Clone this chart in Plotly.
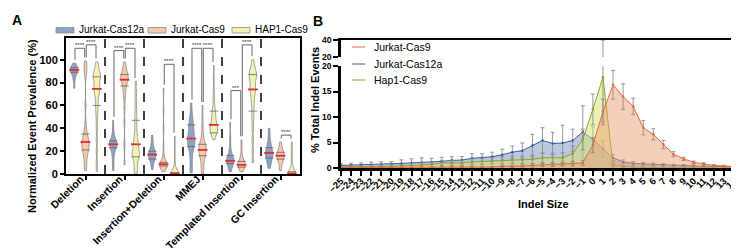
import plotly.graph_objects as go
import numpy as np

# ---------------- Panel A data ----------------
categories = ["Deletion", "Insertion", "Insertion+Deletion", "MMEJ",
              "Templated Insertion", "GC Insertion"]
group_names = ["Jurkat-Cas12a", "Jurkat-Cas9", "HAP1-Cas9"]

# estimated per-sample values (normalized event prevalence, %)
jurkat_cas12a_values = [
    [75, 80, 84, 86, 88, 89, 90, 90, 91, 91, 91, 92, 92, 93, 94, 95, 97],
    [3, 8, 13, 17, 20, 22, 23, 24, 25, 26, 26, 27, 28, 29, 30, 32, 35, 40, 47],
    [4, 8, 11, 13, 14, 15, 16, 17, 17, 18, 19, 20, 22, 25, 29, 34],
    [1, 5, 10, 15, 19, 22, 24, 25, 27, 28, 30, 31, 32, 34, 36, 38, 40, 42, 44, 47, 50, 55, 62],
    [2, 4, 6, 8, 9, 10, 11, 11, 12, 12, 13, 14, 15, 16, 18, 21, 26, 33, 45],
    [5, 8, 10, 12, 14, 15, 16, 17, 18, 19, 20, 21, 23, 25, 27, 30, 35, 40],
]
jurkat_cas9_values = [
    [3, 6, 10, 13, 16, 18, 20, 21, 22, 24, 25, 26, 27, 28, 29, 30, 32, 34, 36, 39, 45, 60, 86, 90, 93, 96, 99],
    [8, 25, 45, 58, 66, 71, 74, 77, 79, 81, 82, 83, 84, 85, 86, 87, 88, 90, 92, 95, 98],
    [2, 4, 5, 6, 7, 7, 8, 8, 8, 9, 9, 10, 11, 13, 17, 25, 40, 55, 75],
    [0, 3, 6, 9, 12, 14, 15, 17, 18, 19, 20, 21, 22, 23, 24, 25, 26, 27, 29, 32, 36, 42, 50, 60],
    [2, 4, 5, 6, 7, 7, 8, 8, 8, 9, 9, 10, 11, 12, 14, 18, 24, 30],
    [3, 6, 9, 11, 13, 14, 15, 16, 16, 17, 18, 19, 20, 22, 25, 28],
]
hap1_cas9_values = [
    [2, 10, 20, 30, 40, 48, 54, 58, 62, 66, 69, 71, 73, 74, 75, 77, 79, 81, 83, 84, 85, 86, 87, 88, 90, 92, 95, 98],
    [0, 3, 6, 9, 12, 14, 16, 17, 18, 19, 20, 22, 24, 26, 28, 30, 33, 37, 42, 47, 52, 58, 65, 72, 81],
    [0, 0, 0, 0, 0, 0, 0.5, 1, 1, 2, 5, 12, 22, 33],
    [30, 33, 35, 36, 37, 38, 39, 40, 41, 42, 43, 44, 46, 48, 50, 52, 54, 56, 60, 66, 74, 84, 95],
    [10, 20, 30, 40, 48, 54, 60, 64, 68, 71, 73, 75, 77, 80, 82, 84, 86, 87, 88, 90, 92, 95, 100],
    [0, 0, 0, 0, 0, 0, 0.5, 1, 2, 4, 8, 15, 22, 28],
]

jurkat_cas12a_median = [91, 26, 17, 31, 11.5, 18.5]
jurkat_cas9_median = [28, 82.5, 8.5, 21, 8, 16]
hap1_cas9_median = [74.5, 26, 0.5, 43, 74, 0.5]

jurkat_cas12a_q1 = [89, 23, 13, 24, 9, 14]
jurkat_cas12a_q3 = [93, 29, 20, 43, 16, 23]
jurkat_cas9_q1 = [21, 77, 7, 16, 6, 13]
jurkat_cas9_q3 = [35, 87, 10, 26, 11, 19]
hap1_cas9_q1 = [60, 15, 0, 36, 55, 0]
hap1_cas9_q3 = [85, 47, 1, 55, 87, 2]

# significance brackets
sig_category = [0, 0, 1, 1, 2, 3, 3, 4, 4, 5]
sig_left = [0, 1, 0, 1, 1, 0, 1, 0, 1, 1]
sig_right = [1, 2, 1, 2, 2, 1, 2, 1, 2, 2]
sig_height = [110, 113, 108, 110, 96, 110, 110, 73, 113, 34]
sig_label = ["****", "****", "****", "****", "****", "****", "****", "***", "****", "****"]

# ---------------- Panel B data ----------------
indel_size = list(range(-25, 16))
jurkat_cas9_pct = [0.1, 0.1, 0.1, 0.1, 0.1, 0.1, 0.1, 0.1, 0.1, 0.1,
                   0.15, 0.15, 0.15, 0.2, 0.2, 0.2, 0.3, 0.3, 0.4, 0.5,
                   0.6, 0.6, 0.7, 0.8, 1.0, 4.5, 11.0, 16.3, 14.0, 12.1,
                   7.9, 6.6, 4.6, 2.7, 1.8, 1.1, 0.8, 0.5, 0.4, 0.25, 0.15]
jurkat_cas9_err = [0.1, 0.1, 0.1, 0.1, 0.1, 0.1, 0.1, 0.1, 0.1, 0.1,
                   0.1, 0.1, 0.1, 0.1, 0.1, 0.1, 0.2, 0.2, 0.2, 0.3,
                   0.3, 0.3, 0.3, 0.4, 0.5, 1.5, 2.5, 2.8, 2.5, 1.6,
                   1.4, 1.1, 0.8, 0.5, 0.3, 0.25, 0.2, 0.15, 0.1, 0.1, 0.1]
jurkat_cas12a_pct = [0.5, 0.55, 0.6, 0.65, 0.7, 0.75, 0.9, 1.0, 1.1, 1.1,
                     1.3, 1.5, 1.55, 1.9, 2.0, 2.2, 2.6, 3.1, 3.4, 4.4,
                     5.4, 4.8, 4.9, 5.4, 7.1, 5.6, 3.8, 2.0, 1.2, 0.9,
                     0.8, 0.7, 0.6, 0.5, 0.45, 0.4, 0.35, 0.3, 0.25, 0.2, 0.2]
jurkat_cas12a_err = [0.3, 0.4, 0.4, 0.5, 0.5, 0.5, 0.7, 0.8, 0.9, 0.8,
                     0.8, 0.7, 0.7, 0.9, 0.8, 0.9, 1.1, 1.2, 1.5, 2.2,
                     2.5, 2.2, 3.5, 2.2, 5.1, 2.5, 1.6, 0.7, 0.4, 0.35,
                     0.3, 0.3, 0.25, 0.2, 0.2, 0.2, 0.15, 0.15, 0.1, 0.1, 0.1]
hap1_cas9_pct = [0.2, 0.2, 0.25, 0.3, 0.3, 0.35, 0.4, 0.5, 0.6, 0.7,
                 1.0, 1.0, 1.0, 1.2, 1.3, 1.4, 1.5, 1.6, 1.6, 1.7,
                 2.0, 2.0, 2.0, 2.8, 5.6, 11.5, 17.8, 0.5, 0.3, 0.2,
                 0.15, 0.1, 0.1, 0.1, 0.1, 0.05, 0.05, 0.05, 0.05, 0.05, 0.05]
hap1_cas9_err_up = [0.2, 0.2, 0.2, 0.3, 0.3, 0.3, 0.3, 0.4, 0.4, 0.5,
                    0.5, 0.5, 0.5, 0.6, 0.6, 0.6, 0.7, 0.7, 0.7, 0.8,
                    0.9, 0.9, 1.0, 1.5, 2.0, 3.0, 22.0, 0.3, 0.2, 0.1,
                    0.1, 0.1, 0.1, 0.1, 0.1, 0.05, 0.05, 0.05, 0.05, 0.05, 0.05]
hap1_cas9_err_down = [0.2, 0.2, 0.2, 0.3, 0.3, 0.3, 0.3, 0.4, 0.4, 0.5,
                      0.5, 0.5, 0.5, 0.6, 0.6, 0.6, 0.7, 0.7, 0.7, 0.8,
                      0.9, 0.9, 1.0, 1.5, 2.0, 3.0, 8.8, 0.3, 0.2, 0.1,
                      0.1, 0.1, 0.1, 0.1, 0.1, 0.05, 0.05, 0.05, 0.05, 0.05, 0.05]
b_legend_names = ["Jurkat-Cas9", "Jurkat-Cas12a", "Hap1-Cas9"]

# ---------------- styling ----------------
FONT = "Arial, Liberation Sans, sans-serif"
W, H = 739, 250
def px_x(p): return p / W
def px_y(p): return 1 - p / H

offsets = [-0.29, 0.0, 0.29]
violin_fill = ["#8ea3c6", "#f5c8ad", "#f1f2b4"]
vwidth = 0.19

fig = go.Figure()

all_values = [jurkat_cas12a_values, jurkat_cas9_values, hap1_cas9_values]
all_median = [jurkat_cas12a_median, jurkat_cas9_median, hap1_cas9_median]
all_q1 = [jurkat_cas12a_q1, jurkat_cas9_q1, hap1_cas9_q1]
all_q3 = [jurkat_cas12a_q3, jurkat_cas9_q3, hap1_cas9_q3]

for g in range(3):
    for i, vals in enumerate(all_values[g]):
        fig.add_trace(go.Violin(
            y=vals, x0=i + offsets[g], name=group_names[g], showlegend=False,
            width=vwidth, fillcolor=violin_fill[g], opacity=1,
            line=dict(color="#7a7a7a", width=0.7),
            points=False, spanmode="hard", scalemode="width", bandwidth=3.2,
            box_visible=False, meanline_visible=False,
            hoverinfo="skip", xaxis="x", yaxis="y"))
for g in range(3):
    xs = [i + offsets[g] for i in range(len(categories))]
    for qs in (all_q1[g], all_q3[g]):
        fig.add_trace(go.Scatter(
            x=xs, y=qs, mode="markers", showlegend=False, hoverinfo="skip",
            marker=dict(symbol="line-ew", size=6, line=dict(color="#555555", width=0.7)),
            xaxis="x", yaxis="y"))
    fig.add_trace(go.Scatter(
        x=xs, y=all_median[g], mode="markers", showlegend=False, hoverinfo="skip",
        marker=dict(symbol="line-ew", size=7, line=dict(color="#e32b2b", width=1.8)),
        xaxis="x", yaxis="y"))

shapes = []
annotations = []
# separators
for i in range(len(categories) - 1):
    shapes.append(dict(type="line", xref="x", yref="y", x0=i + 0.5, x1=i + 0.5,
                       y0=0, y1=119, line=dict(color="black", width=1.5, dash="dash")))
# brackets
for c, a, b, h, lab in zip(sig_category, sig_left, sig_right, sig_height, sig_label):
    xa = c + offsets[a] + 0.02
    xb = c + offsets[b] - 0.02
    ya = max(all_values[a][c]) + 3
    yb = max(all_values[b][c]) + 3
    shapes.append(dict(type="path", xref="x", yref="y",
                       path=f"M{xa},{ya} L{xa},{h} L{xb},{h} L{xb},{yb}",
                       line=dict(color="#555555", width=0.9)))
    annotations.append(dict(x=(xa + xb) / 2, y=h, xref="x", yref="y", text=lab,
                            showarrow=False, yanchor="bottom", yshift=-2,
                            font=dict(size=6, color="#333333", family=FONT)))

# ---------------- Panel B traces ----------------
b_colors = {
    "Jurkat-Cas12a": ("#3d5a99", "rgba(95,125,180,0.42)"),
    "Hap1-Cas9": ("#8e9f2f", "rgba(215,228,110,0.5)"),
    "Jurkat-Cas9": ("#e8673d", "rgba(236,160,115,0.5)"),
}
b_series = [
    ("Jurkat-Cas12a", jurkat_cas12a_pct, jurkat_cas12a_err, jurkat_cas12a_err),
    ("Hap1-Cas9", hap1_cas9_pct, hap1_cas9_err_up, hap1_cas9_err_down),
    ("Jurkat-Cas9", jurkat_cas9_pct, jurkat_cas9_err, jurkat_cas9_err),
]
for yax, xax in (("y2", "x2"), ("y3", "x3")):
    for name, vals, eup, edn in b_series:
        lc, fc = b_colors[name]
        fig.add_trace(go.Scatter(
            x=indel_size, y=vals, mode="lines+markers", fill="tozeroy", fillcolor=fc,
            line=dict(color=lc, width=1), marker=dict(size=2.5, color=lc), name=name,
            error_y=dict(type="data", array=eup, arrayminus=edn, symmetric=False,
                         color="#8c8c8c", thickness=0.9, width=2),
            showlegend=False, hoverinfo="skip", xaxis=xax, yaxis=yax))

def tf(size):
    return dict(family=FONT, size=size, color="black", weight="bold")

axis_common = dict(showgrid=False, zeroline=False, showline=True, linecolor="black",
                   ticks="outside", tickcolor="black", automargin=False)

xA = [px_x(58), px_x(292)]
yA = [px_y(166), px_y(30)]
xB = [px_x(333), px_x(736)]
yB_low = [px_y(160), px_y(58)]
yB_high = [px_y(49), px_y(32)]

fig.update_layout(
    template="none", showlegend=False,
    width=W, height=H, margin=dict(l=0, r=0, t=0, b=0, pad=0),
    paper_bgcolor="white", plot_bgcolor="rgba(0,0,0,0)",
    font=dict(family=FONT, color="black"),
    violinmode="overlay", violingap=0, violingroupgap=0,
    xaxis=dict(domain=xA, type="linear", range=[-0.5, 5.5], tickvals=list(range(6)),
               ticktext=categories, tickangle=-45, linewidth=2, mirror=True,
               ticklen=4, tickwidth=2, anchor="y", tickfont=tf(10.5),
               ticklabelstandoff=-11, ticklabelshift=-5, **axis_common),
    yaxis=dict(domain=yA, range=[0, 119], tickvals=[0, 20, 40, 60, 80, 100],
               linewidth=2, mirror=True, ticklen=4, tickwidth=2, anchor="x",
               tickfont=tf(11), **axis_common),
    xaxis2=dict(domain=xB, range=[-25, 15], tickmode="linear", tick0=-25, dtick=1,
                tickangle=-45, linewidth=2.5, ticklen=5, tickwidth=2, anchor="y2",
                tickfont=tf(9.5), ticklabelstandoff=-4, **axis_common),
    yaxis2=dict(domain=yB_low, range=[0, 20], tickvals=[0, 5, 10, 15, 20],
                linewidth=2.5, ticklen=5, tickwidth=2, anchor="x2",
                tickfont=tf(8.5), **axis_common),
    xaxis3=dict(domain=xB, range=[-25, 15], matches="x2", anchor="y3", side="top",
                showticklabels=False, ticks="", showline=True, linewidth=2,
                linecolor="black", showgrid=False, zeroline=False, automargin=False),
    yaxis3=dict(domain=yB_high, range=[20, 40], tickvals=[20, 40],
                linewidth=2.5, ticklen=5, tickwidth=2, anchor="x3",
                tickfont=tf(8.5), **axis_common),
)

# frame right side of panel B
shapes.append(dict(type="line", xref="paper", yref="paper", x0=xB[1], x1=xB[1],
                   y0=yB_low[0], y1=yB_high[1], line=dict(color="black", width=1.5)))

# legend for panel A (swatch + label)
legA_swatch_x = [48, 140, 224]
for name, fillc, sx in zip(group_names, violin_fill, legA_swatch_x):
    shapes.append(dict(type="rect", xref="paper", yref="paper",
                       x0=px_x(sx), x1=px_x(sx + 18), y0=px_y(25), y1=px_y(19.5),
                       fillcolor=fillc, line=dict(color="#8a8a8a", width=0.8)))
    annotations.append(dict(x=px_x(sx + 21), y=px_y(22), xref="paper", yref="paper",
                            text=name, showarrow=False, xanchor="left", yanchor="middle",
                            font=dict(size=10, family=FONT, color="black")))

# legend for panel B (line + label)
legB_y = [39, 56, 72]
for name, ly in zip(b_legend_names, legB_y):
    lc, _ = b_colors[name]
    shapes.append(dict(type="line", xref="paper", yref="paper",
                       x0=px_x(344), x1=px_x(357), y0=px_y(ly), y1=px_y(ly),
                       line=dict(color=lc, width=1)))
    annotations.append(dict(x=px_x(364), y=px_y(ly), xref="paper", yref="paper",
                            text=name, showarrow=False, xanchor="left", yanchor="middle",
                            font=dict(size=10.5, family=FONT, color="black")))

annotations += [
    dict(x=px_x(2), y=px_y(12), xref="paper", yref="paper", text="<b>A</b>",
         showarrow=False, xanchor="left", yanchor="middle", font=dict(size=14, family=FONT)),
    dict(x=px_x(303), y=px_y(13), xref="paper", yref="paper", text="<b>B</b>",
         showarrow=False, xanchor="left", yanchor="middle", font=dict(size=14, family=FONT)),
    dict(x=px_x(24), y=px_y(118), xref="paper", yref="paper",
         text="<b>Normalized Event Prevalence (%)</b>", textangle=-90, showarrow=False,
         xanchor="center", yanchor="middle", font=dict(size=11, family=FONT)),
    dict(x=px_x(307), y=px_y(92), xref="paper", yref="paper",
         text="<b>% Total Indel Events</b>", textangle=-90, showarrow=False,
         xanchor="center", yanchor="middle", font=dict(size=11, family=FONT)),
    dict(x=px_x(535), y=px_y(196), xref="paper", yref="paper", text="<b>Indel Size</b>",
         showarrow=False, xanchor="center", yanchor="middle", font=dict(size=11, family=FONT)),
]

fig.update_layout(shapes=shapes, annotations=annotations)
fig.write_html("out.html")
